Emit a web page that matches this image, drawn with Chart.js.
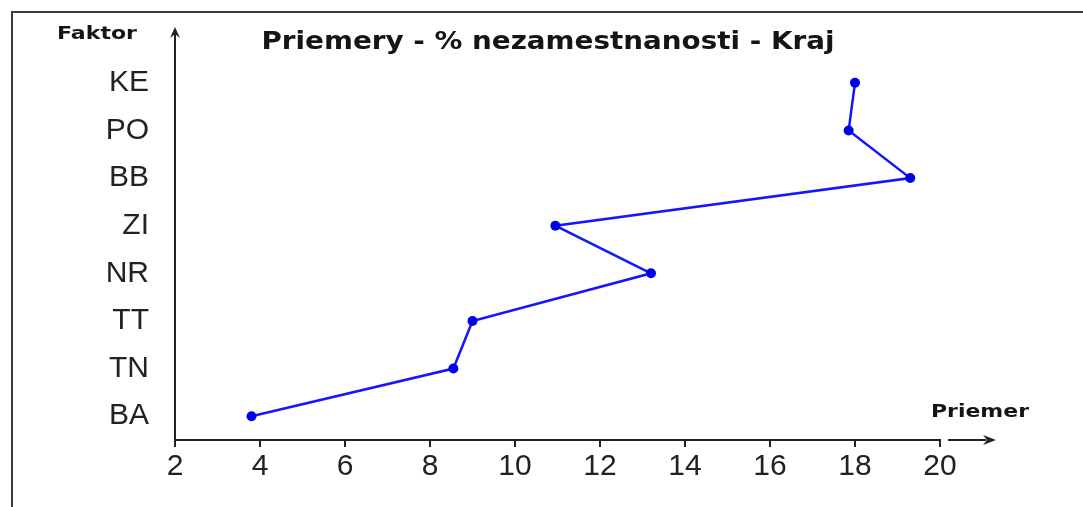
<!DOCTYPE html>
<html>
<head>
<meta charset="utf-8">
<script src="https://cdn.jsdelivr.net/npm/chart.js@4/dist/chart.umd.min.js"></script>
<style>
  html, body { margin: 0; padding: 0; background: #fff; }
  #wrap { width: 1083px; height: 507px; position: relative; }
</style>
</head>
<body>
<div id="wrap"><canvas id="c" width="1083" height="507"></canvas></div>
<script>
// ---- data ----
const categories = ['KE', 'PO', 'BB', 'ZI', 'NR', 'TT', 'TN', 'BA'];
const values = [18.0, 17.85, 19.3, 10.95, 13.2, 9.0, 8.55, 3.8];
const xTickValues = [2, 4, 6, 8, 10, 12, 14, 16, 18, 20];
const titleText = 'Priemery - % nezamestnanosti - Kraj';
const yAxisTitle = 'Faktor';
const xAxisTitle = 'Priemer';

function stretchedText(ctx, text, x, y, font, targetWidth, align) {
  ctx.save();
  ctx.font = font;
  ctx.textBaseline = 'alphabetic';
  ctx.textAlign = 'left';
  const w = ctx.measureText(text).width;
  const sx = targetWidth / w;
  let left = x;
  if (align === 'center') left = x - targetWidth / 2;
  ctx.translate(left, y);
  ctx.scale(sx, 1);
  ctx.fillStyle = '#151515';
  ctx.fillText(text, 0, 0);
  ctx.restore();
}

const decor = {
  id: 'decor',
  beforeDraw(chart) {
    const ctx = chart.ctx;
    ctx.save();
    ctx.fillStyle = '#fff';
    ctx.fillRect(0, 0, chart.width, chart.height);
    // frame
    ctx.strokeStyle = '#3a3a3a';
    ctx.lineWidth = 2;
    ctx.beginPath();
    ctx.moveTo(12, chart.height + 2);
    ctx.lineTo(12, 12);
    ctx.lineTo(chart.width + 2, 12);
    ctx.stroke();
    ctx.restore();
  },
  afterDraw(chart) {
    const ctx = chart.ctx;
    const a = chart.chartArea;
    ctx.save();
    ctx.strokeStyle = '#222';
    ctx.fillStyle = '#222';
    ctx.lineWidth = 2;
    // y axis extension + arrow
    ctx.beginPath();
    ctx.moveTo(a.left, a.top);
    ctx.lineTo(a.left, 32);
    ctx.stroke();
    ctx.beginPath();
    ctx.moveTo(a.left, 27);
    ctx.lineTo(a.left - 5, 38);
    ctx.lineTo(a.left, 34);
    ctx.lineTo(a.left + 5, 38);
    ctx.closePath();
    ctx.fill();
    // x arrow
    const ay = a.bottom;
    ctx.beginPath();
    ctx.moveTo(a.right + 8, ay);
    ctx.lineTo(a.right + 46, ay);
    ctx.stroke();
    ctx.beginPath();
    ctx.moveTo(a.right + 56, ay);
    ctx.lineTo(a.right + 43, ay - 5);
    ctx.lineTo(a.right + 47, ay);
    ctx.lineTo(a.right + 43, ay + 5);
    ctx.closePath();
    ctx.fill();
    ctx.restore();
    // texts
    stretchedText(ctx, titleText, 548, 49, 'bold 24px "DejaVu Sans"', 573, 'center');
    stretchedText(ctx, yAxisTitle, 57, 39, 'bold 17px "DejaVu Sans"', 80, 'left');
    stretchedText(ctx, xAxisTitle, 931, 417, 'bold 17px "DejaVu Sans"', 98, 'left');
  }
};

new Chart(document.getElementById('c'), {
  type: 'line',
  data: {
    labels: categories,
    datasets: [{
      data: values,
      borderColor: '#1515ff',
      backgroundColor: '#0000ee',
      borderWidth: 2.5,
      pointRadius: 5,
      pointBorderWidth: 0,
      pointBackgroundColor: '#0000ee',
      tension: 0,
      clip: false
    }]
  },
  options: {
    indexAxis: 'y',
    responsive: false,
    animation: false,
    events: [],
    layout: { padding: { left: 0, top: 59, right: 143, bottom: 0 } },
    plugins: { legend: { display: false }, title: { display: false }, tooltip: { enabled: false } },
    scales: {
      x: {
        type: 'linear',
        position: 'bottom',
        min: 2, max: 20,
        afterBuildTicks(scale) { scale.ticks = xTickValues.map(v => ({ value: v })); },
        afterFit(scale) { scale.height = 67; },
        ticks: {
          color: '#222',
          font: { family: '"Liberation Sans", Arial, sans-serif', size: 30 },
          padding: 2,
          maxRotation: 0,
          autoSkip: false
        },
        grid: { display: true, drawOnChartArea: false, drawTicks: true, tickLength: 7, color: '#222', lineWidth: 2 },
        border: { display: true, color: '#222', width: 2 }
      },
      y: {
        type: 'category',
        offset: true,
        afterFit(scale) { scale.width = 175; },
        ticks: {
          color: '#222',
          font: { family: '"Liberation Sans", Arial, sans-serif', size: 30 },
          padding: 26
        },
        grid: { display: false, drawTicks: false },
        border: { display: true, color: '#222', width: 2 }
      }
    }
  },
  plugins: [decor]
});
</script>
</body>
</html>
